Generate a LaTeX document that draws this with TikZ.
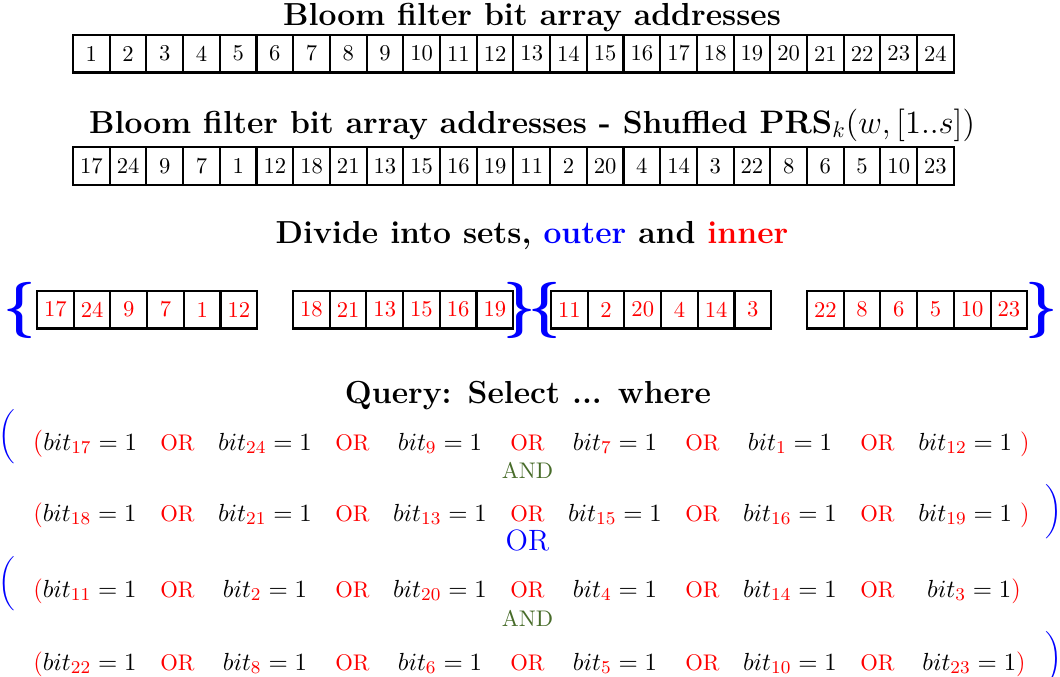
\documentclass[tikz,border=0pt]{standalone}
\usepackage{xcolor}
\definecolor{andgreen}{RGB}{72,108,42}
\newcommand{\bitterm}[1]{$bit_{\textcolor{red}{#1}}=1$}
\begin{document}
\begin{tikzpicture}[x=0.4425pt,y=-0.4425pt,
  cell/.style={draw,line width=0.9pt,minimum width=16.24pt,minimum height=16.8pt,inner sep=0pt,font=\normalsize},
  rcell/.style={cell,text=red},
  title/.style={font=\fontsize{14.1}{17}\selectfont\bfseries,anchor=base,inner sep=0pt},
  term/.style={anchor=base,inner sep=0pt,font=\fontsize{11}{13}\selectfont},
  orop/.style={anchor=base,inner sep=0pt,text=red},
  andop/.style={anchor=base,inner sep=0pt,text=andgreen},
  bigor/.style={anchor=base,inner sep=0pt,text=blue,font=\fontsize{13}{15}\selectfont},
  brace/.style={inner sep=0pt,text=blue,font=\Huge\boldmath},
  bparen/.style={inner sep=0pt,text=blue,font=\fontsize{13}{15}\selectfont}]
\useasboundingbox (0,0) rectangle (1060,676);

% title 1 and row 1
\node[title] (t1) at (532,25.5) {Bloom filter bit array addresses};
\foreach \v [count=\i from 0] in {1,...,24}
  \node[cell] (a\v) at ({73+36.7*(\i+0.5)},53.5) {\v};

% title 2 and row 2
\node[title] (t2) at (532,133) {Bloom filter bit array addresses - Shuffled $\mathbf{PRS}_k(w,[1..s])$};
\foreach \v [count=\i from 0] in {17,24,9,7,1,12,18,21,13,15,16,19,11,2,20,4,14,3,22,8,6,5,10,23}
  \node[cell] (b\v) at ({73+36.7*(\i+0.5)},166) {\v};

% divide
\node[title] (t3) at (532,243) {Divide into sets, \textcolor{blue}{outer} and \textcolor{red}{inner}};
\foreach \v [count=\i from 0] in {17,24,9,7,1,12}
  \node[rcell] (g1-\v) at ({37+36.7*(\i+0.5)},309.5) {\v};
\foreach \v [count=\i from 0] in {18,21,13,15,16,19}
  \node[rcell] (g2-\v) at ({293+36.7*(\i+0.5)},309.5) {\v};
\foreach \v [count=\i from 0] in {11,2,20,4,14,3}
  \node[rcell] (g3-\v) at ({551+36.7*(\i+0.5)},309.5) {\v};
\foreach \v [count=\i from 0] in {22,8,6,5,10,23}
  \node[rcell] (g4-\v) at ({807+36.7*(\i+0.5)},309.5) {\v};
\node[brace] (br1) at (20,310) {$\{$};
\node[brace] (br2) at (520,310) {$\}$};
\node[brace] (br3) at (545,310) {$\{$};
\node[brace] (br4) at (1042,310) {$\}$};

% query
\node[title] (t4) at (528,403) {Query: Select ... where};

\node[bparen] (p1) at (7,437) {$\bigg($};
\node[bparen] (p2) at (1054,512) {$\bigg)$};
\node[bparen] (p3) at (7,584) {$\bigg($};
\node[bparen] (p4) at (1054,659) {$\bigg)$};

% line 1
\node[term] (l1c1) at (85,450) {\textcolor{red}{\large(}\bitterm{17}};
\node[term] (l1c2) at (265,450) {\bitterm{24}};
\node[term] (l1c3) at (440,450) {\bitterm{9}};
\node[term] (l1c4) at (615,450) {\bitterm{7}};
\node[term] (l1c5) at (790,450) {\bitterm{1}};
\node[term] (l1c6) at (974,450) {\bitterm{12}\ \textcolor{red}{)}};
% line 2
\node[term] (l2c1) at (85,521) {\textcolor{red}{(}\bitterm{18}};
\node[term] (l2c2) at (265,521) {\bitterm{21}};
\node[term] (l2c3) at (440,521) {\bitterm{13}};
\node[term] (l2c4) at (615,521) {\bitterm{15}};
\node[term] (l2c5) at (790,521) {\bitterm{16}};
\node[term] (l2c6) at (974,521) {\bitterm{19}\ \textcolor{red}{)}};
% line 3
\node[term] (l3c1) at (85,597) {\textcolor{red}{(}\bitterm{11}};
\node[term] (l3c2) at (265,597) {\bitterm{2}};
\node[term] (l3c3) at (440,597) {\bitterm{20}};
\node[term] (l3c4) at (615,597) {\bitterm{4}};
\node[term] (l3c5) at (790,597) {\bitterm{14}};
\node[term] (l3c6) at (974,597) {\bitterm{3}\textcolor{red}{)}};
% line 4
\node[term] (l4c1) at (85,670) {\textcolor{red}{(}\bitterm{22}};
\node[term] (l4c2) at (265,670) {\bitterm{8}};
\node[term] (l4c3) at (440,670) {\bitterm{6}};
\node[term] (l4c4) at (615,670) {\bitterm{5}};
\node[term] (l4c5) at (790,670) {\bitterm{10}};
\node[term] (l4c6) at (974,670) {\bitterm{23}\textcolor{red}{)}};

% OR operators
\foreach \y/\l in {450/1,521/2,597/3,670/4}
  \foreach \x [count=\k] in {177.5,352.5,527.5,702.5,877.5}
    \node[orop] (or\l-\k) at (\x,\y) {OR};

\node[andop] (and1) at (527.5,478) {AND};
\node[andop] (and2) at (527.5,626) {AND};
\node[bigor] (bigor) at (527.5,550) {OR};
\end{tikzpicture}
\end{document}
